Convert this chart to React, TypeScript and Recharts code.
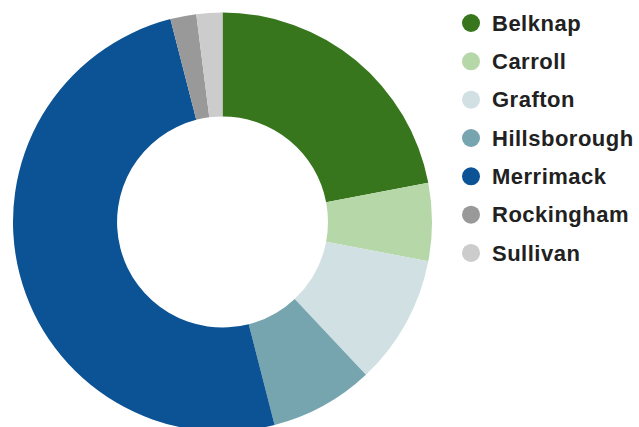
import React from "react";
import { PieChart, Pie, Cell, Legend } from "recharts";

const counties = ["Belknap", "Carroll", "Grafton", "Hillsborough", "Merrimack", "Rockingham", "Sullivan"];
const values = [22, 6, 10, 8, 50, 2, 2];
const colors = ["#38761d", "#b6d7a8", "#d0e0e3", "#76a5af", "#0b5394", "#999999", "#cccccc"];

const data = counties.map((name, i) => ({ name, value: values[i] }));

const renderLegend = () => (
  <svg width={179} height={275}>
    {counties.map((name, i) => {
      const cy = 23 + i * 38.33;
      return (
        <g key={name}>
          <circle cx={11} cy={cy} r={9} fill={colors[i]} />
          <text
            x={32}
            y={cy + 7.8}
            fontFamily="'Liberation Sans', Arial, sans-serif"
            fontWeight="bold"
            fontSize={22}
            letterSpacing={0.5}
            fill="#212121"
          >
            {name}
          </text>
        </g>
      );
    })}
  </svg>
);

export default function App() {
  return (
    <div style={{ position: "absolute", left: 0, top: 0, width: 639, height: 427, background: "#fff" }}>
      <PieChart width={639} height={427} margin={{ top: 0, right: 0, bottom: 0, left: 0 }}>
        <Pie
          data={data}
          dataKey="value"
          nameKey="name"
          cx={222.5}
          cy={222}
          innerRadius={105.5}
          outerRadius={209.5}
          startAngle={90}
          endAngle={-270}
          stroke="none"
          isAnimationActive={false}
        >
          {data.map((d, i) => (
            <Cell key={d.name} fill={colors[i]} />
          ))}
        </Pie>
        <Legend
          content={renderLegend}
          wrapperStyle={{ position: "absolute", left: 460, top: 0, width: 179, height: 275 }}
        />
      </PieChart>
    </div>
  );
}
